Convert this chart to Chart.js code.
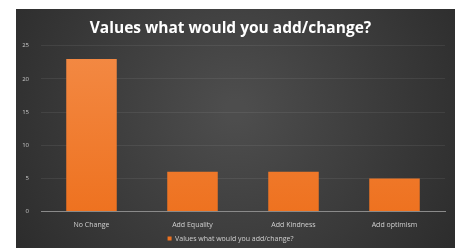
<!DOCTYPE html>
<html><head><meta charset="utf-8">
<script src="https://cdn.jsdelivr.net/npm/chart.js@4/dist/chart.umd.min.js"></script>
<style>html,body{margin:0;padding:0;background:#fff;}#wrap{width:461px;height:248px;}</style>
</head><body><div id="wrap"><canvas id="c" width="461" height="248"></canvas></div>
<script>
const categories = ["No Change", "Add Equality", "Add Kindness", "Add optimism"];
const seriesName = "Values what would you add/change?";
const values = [23, 6, 6, 5];
const yTicks = [0, 5, 10, 15, 20, 25];

const panelBg = {
  id: 'panelBg',
  beforeDraw(chart) {
    const ctx = chart.ctx;
    ctx.save();
    ctx.fillStyle = '#ffffff';
    ctx.fillRect(0, 0, chart.width, chart.height);
    const x0 = 16, y0 = 9, x1 = 455, y1 = 248;
    const g = ctx.createRadialGradient(235, 110, 10, 235, 110, 260);
    g.addColorStop(0, '#4d4d4d');
    g.addColorStop(1, '#2c2c2c');
    ctx.fillStyle = g;
    ctx.fillRect(x0, y0, x1 - x0, y1 - y0);
    ctx.restore();
  }
};

function barGrad(ctx) {
  const ca = ctx.chart.chartArea;
  if (!ca) return '#f07a28';
  const g = ctx.chart.ctx.createLinearGradient(0, ca.top, 0, ca.bottom);
  g.addColorStop(0, '#f38a45');
  g.addColorStop(1, '#ee7220');
  return g;
}

new Chart(document.getElementById('c'), {
  type: 'bar',
  data: {
    labels: categories,
    datasets: [{
      label: seriesName,
      data: values,
      backgroundColor: barGrad,
      borderWidth: 0,
      barPercentage: 0.5,
      categoryPercentage: 1.0
    }]
  },
  options: {
    responsive: false,
    animation: false,
    devicePixelRatio: 1,
    layout: { padding: { left: 16, right: 16, top: 9, bottom: -4 } },
    plugins: {
      title: {
        display: true,
        text: seriesName,
        color: '#ffffff',
        font: { family: 'Open Sans', size: 15.5, weight: 'bold' },
        padding: { top: 10, bottom: 8 }
      },
      legend: {
        position: 'bottom',
        labels: {
          color: '#d0d0d0',
          font: { family: 'Open Sans', size: 7 },
          boxWidth: 4, boxHeight: 4, padding: 0
        }
      },
      tooltip: { enabled: false }
    },
    scales: {
      x: {
        grid: { display: false },
        border: { color: '#8a8a8a', width: 1 },
        ticks: { color: '#d0d0d0', font: { family: 'Open Sans', size: 7 }, padding: 1, maxRotation: 0 },
        afterFit(s) { s.height += 5; }
      },
      y: {
        min: 0, max: 25,
        afterBuildTicks(s) { s.ticks = yTicks.map(v => ({ value: v })); },
        grid: { color: 'rgba(255,255,255,0.07)', drawTicks: false },
        border: { display: false },
        ticks: { color: '#c8c8c8', font: { family: 'Open Sans', size: 6 }, padding: 12 },
        afterFit(s) { s.width = 25; }
      }
    }
  },
  plugins: [panelBg]
});
</script></body></html>
